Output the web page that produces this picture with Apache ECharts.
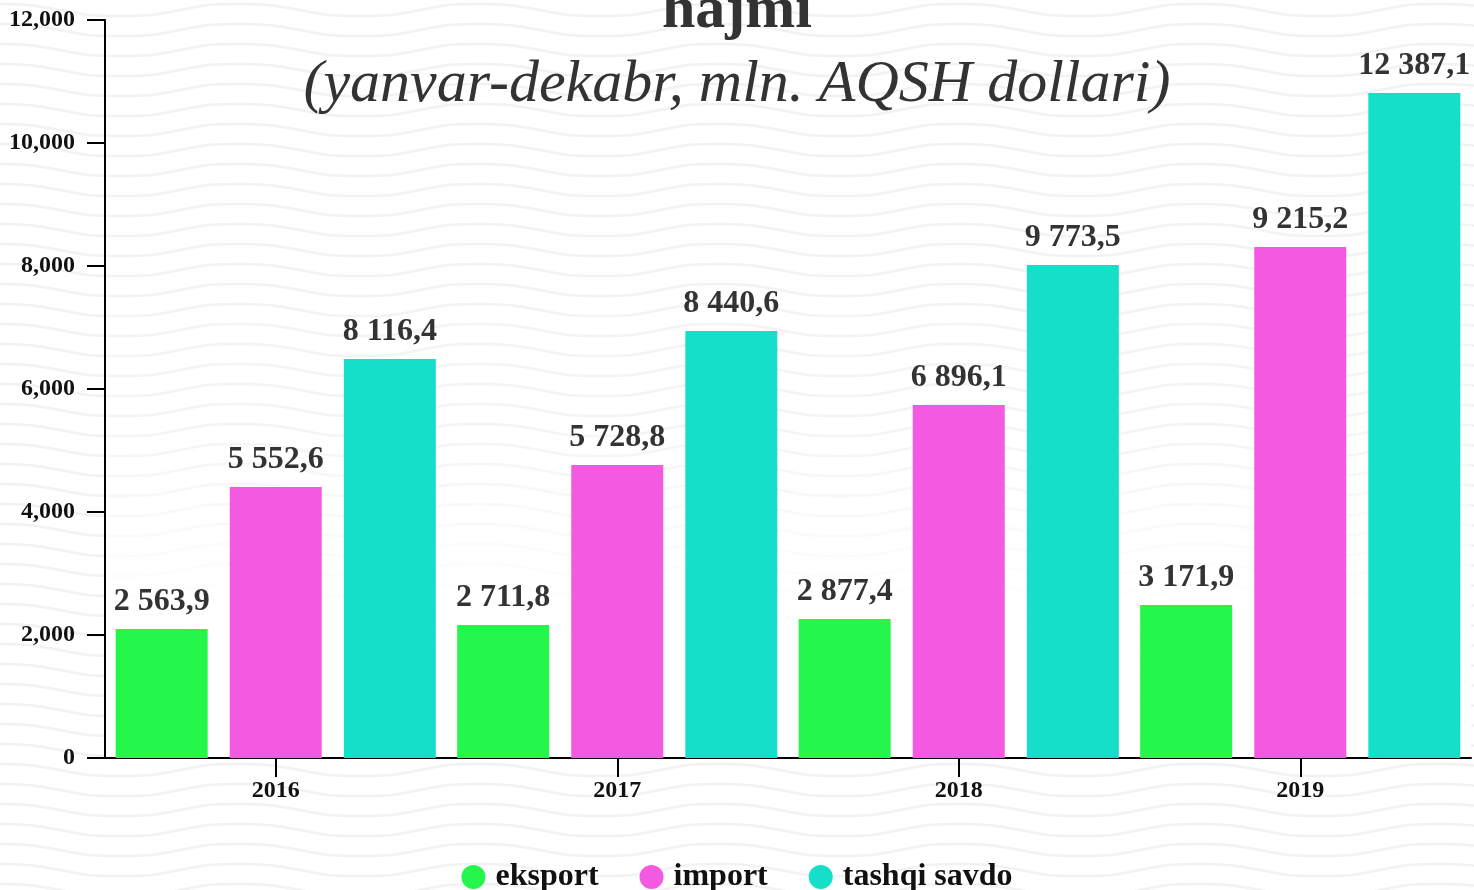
<!DOCTYPE html>
<html>
<head>
<meta charset="utf-8">
<script src="https://cdn.jsdelivr.net/npm/echarts@6/dist/echarts.min.js"></script>
<style>
html,body{margin:0;padding:0;width:1474px;height:890px;overflow:hidden;}
body{
  background-color:#fff;
  background-image:url("data:image/svg+xml,%3Csvg xmlns='http://www.w3.org/2000/svg' width='240' height='20'%3E%3Cpath d='M-60 10 C-30 4 -15 4 0 4 S30 4 60 10 S90 16 120 16 S150 16 180 10 S210 4 240 4 S270 4 300 10' fill='none' stroke='%23f2f2f2' stroke-width='2.5'/%3E%3C/svg%3E");
  background-size:240px 20px;
}
#chart{width:1474px;height:890px;}
</style>
</head>
<body>
<div id="chart"></div>
<script>
const categories = ['2016', '2017', '2018', '2019'];
const seriesNames = ['eksport', 'import', 'tashqi savdo'];
const eksportValues = [2097, 2163, 2260, 2488];
const importValues = [4407, 4764, 5740, 8309];
const tashqiValues = [6488, 6943, 8016, 10813];
const eksportLabels = ['2 563,9', '2 711,8', '2 877,4', '3 171,9'];
const importLabels = ['5 552,6', '5 728,8', '6 896,1', '9 215,2'];
const tashqiLabels = ['8 116,4', '8 440,6', '9 773,5', '12 387,1'];
const titleText = 'hajmi';
const subtitleText = '(yanvar-dekabr, mln. AQSH dollari)';
const colors = ['#24F64B', '#F459E2', '#15DEC9'];

const serif = "'Liberation Serif', 'DejaVu Serif', serif";
const chart = echarts.init(document.getElementById('chart'), null, {renderer: 'canvas'});

function makeSeries(name, values, labels, color) {
  return {
    name: name,
    type: 'bar',
    data: values,
    barWidth: 92,
    barGap: '24%',
    itemStyle: {color: color},
    label: {
      show: true,
      position: 'top',
      distance: 11,
      fontFamily: serif,
      fontWeight: 'bold',
      fontSize: 32,
      color: '#333',
      formatter: p => labels[p.dataIndex]
    }
  };
}

chart.setOption({
  backgroundColor: 'transparent',
  animation: false,
  color: colors,
  title: [
    {
      text: titleText,
      left: 'center',
      top: -24,
      textStyle: {fontFamily: serif, fontWeight: 'bold', fontSize: 60, color: '#333'}
    },
    {
      text: subtitleText,
      left: 'center',
      top: 50,
      textStyle: {fontFamily: serif, fontStyle: 'italic', fontWeight: 'normal', fontSize: 60, color: '#333'}
    }
  ],
  legend: {
    bottom: -8,
    left: 'center',
    icon: 'circle',
    itemWidth: 24,
    itemHeight: 24,
    itemGap: 41,
    textStyle: {fontFamily: serif, fontWeight: 'bold', fontSize: 32, color: '#111', padding: [0, 0, 0, 5]},
    data: seriesNames
  },
  grid: {
    left: 105, right: 3, top: 20, bottom: 132,
    show: true,
    borderWidth: 0,
    backgroundColor: {
      type: 'linear', x: 0, y: 0, x2: 0, y2: 1,
      colorStops: [
        {offset: 0, color: 'rgba(255,255,255,0)'},
        {offset: 0.55, color: 'rgba(255,255,255,0.2)'},
        {offset: 0.8, color: 'rgba(255,255,255,0.9)'},
        {offset: 1, color: 'rgba(255,255,255,1)'}
      ]
    }
  },
  xAxis: {
    type: 'category',
    data: categories,
    axisLine: {show: true, lineStyle: {color: '#000', width: 2}},
    axisTick: {show: true, alignWithLabel: true, length: 19, lineStyle: {color: '#000', width: 2}},
    axisLabel: {fontFamily: serif, fontWeight: 'bold', fontSize: 24, color: '#111', margin: 21}
  },
  yAxis: {
    type: 'value',
    min: 0, max: 12000, interval: 2000,
    axisLine: {show: true, lineStyle: {color: '#000', width: 2}},
    axisTick: {show: true, length: 18, lineStyle: {color: '#000', width: 2}},
    splitLine: {show: false},
    axisLabel: {
      fontFamily: serif, fontWeight: 'bold', fontSize: 24, color: '#111', margin: 30,
      formatter: v => v.toLocaleString('en-US')
    }
  },
  series: [
    makeSeries(seriesNames[0], eksportValues, eksportLabels, colors[0]),
    makeSeries(seriesNames[1], importValues, importLabels, colors[1]),
    makeSeries(seriesNames[2], tashqiValues, tashqiLabels, colors[2])
  ]
});
</script>
</body>
</html>
